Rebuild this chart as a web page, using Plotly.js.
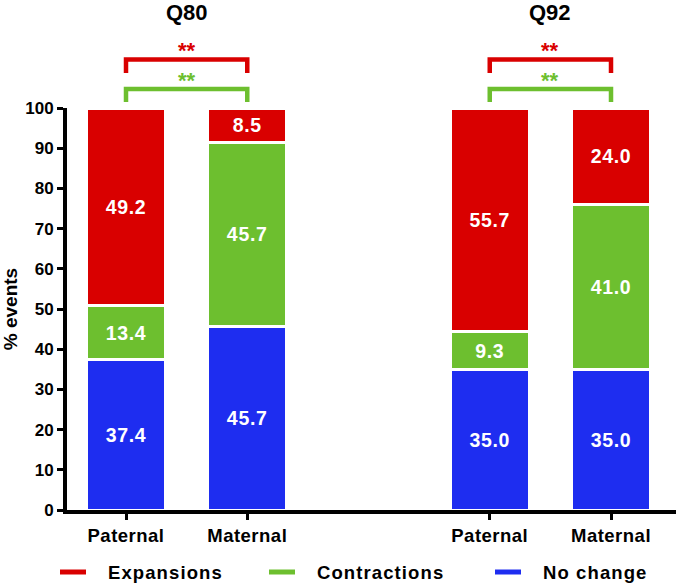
<!DOCTYPE html>
<html><head><meta charset="utf-8">
<script src="https://cdn.plot.ly/plotly-3.0.1.min.js"></script>
<style>
html,body{margin:0;padding:0;background:#fff}
.xtick text{letter-spacing:0.5px}
.bartext{letter-spacing:0.7px}
</style>
</head><body><div id="chart" style="width:677px;height:585px"></div>
<script>
// ---- data ----
const groups = ['Q80', 'Q92'];
const categories = ['Paternal', 'Maternal', 'Paternal', 'Maternal'];
const positions = [0, 1, 3, 4];
const noChange = [37.4, 45.7, 35.0, 35.0];
const contractions = [13.4, 45.7, 9.3, 41.0];
const expansions = [49.2, 8.5, 55.7, 24.0];
const seriesNames = ['Expansions', 'Contractions', 'No change'];
const sigExpansions = ['**', '**'];
const sigContractions = ['**', '**'];
const yTitle = '% events';

// ---- style ----
const RED = '#D90000', GREEN = '#6DBF2F', BLUE = '#1E2DF0';
const FONT = 'Arial, "Liberation Sans", Helvetica, sans-serif';
const W = 677, H = 585;
const M = {l: 67, r: 1, t: 108, b: 75};
const plotW = W - M.l - M.r, plotH = H - M.t - M.b;
const px2x = px => (px - M.l) / plotW;
const py2y = py => (H - M.b - py) / plotH;

function barTrace(vals, name, color) {
  return {
    type: 'bar', x: positions, y: vals, name: name,
    width: 0.648, showlegend: false,
    marker: {color: color, line: {color: '#ffffff', width: 3}},
    texttemplate: '%{y:.1f}', textposition: 'inside', insidetextanchor: 'middle',
    textangle: 0, constraintext: 'none',
    textfont: {family: FONT, size: 19.5, color: '#ffffff', weight: 'bold'},
    hoverinfo: 'skip'
  };
}
const data = [
  barTrace(noChange, seriesNames[2], BLUE),
  barTrace(contractions, seriesNames[1], GREEN),
  barTrace(expansions, seriesNames[0], RED)
];

const shapes = [], annotations = [];
groups.forEach((g, i) => {
  const p0 = positions[2 * i], p1 = positions[2 * i + 1];
  annotations.push({text: g, x: (p0 + p1) / 2, xref: 'x', y: py2y(12.5), yref: 'paper',
    showarrow: false, yanchor: 'middle',
    font: {family: FONT, size: 22, color: '#000', weight: 'bold'}});
  const brackets = [
    {top: 59.5, bot: 73, color: RED, star: sigExpansions[i], sy: 50},
    {top: 89, bot: 102, color: GREEN, star: sigContractions[i], sy: 80}
  ];
  brackets.forEach(b => {
    shapes.push({type: 'path', xref: 'x', yref: 'paper',
      path: `M ${p0},${py2y(b.bot)} L ${p0},${py2y(b.top)} L ${p1},${py2y(b.top)} L ${p1},${py2y(b.bot)}`,
      line: {color: b.color, width: 4.5}});
    annotations.push({text: b.star, x: (p0 + p1) / 2, xref: 'x', y: py2y(b.sy), yref: 'paper',
      showarrow: false, yanchor: 'middle',
      font: {family: FONT, size: 22, color: b.color, weight: 'bold'}});
  });
});

// legend (manual, to match line-style swatches)
const legendColors = [RED, GREEN, BLUE];
const legendSym = [60, 269, 495];
const legendY = 572;
seriesNames.forEach((n, i) => {
  shapes.push({type: 'line', xref: 'paper', yref: 'paper',
    x0: px2x(legendSym[i]), x1: px2x(legendSym[i] + 26),
    y0: py2y(legendY), y1: py2y(legendY),
    line: {color: legendColors[i], width: 5}});
  annotations.push({text: '<span style="letter-spacing:1.1px">' + n + '</span>',
    xref: 'paper', yref: 'paper',
    x: px2x(legendSym[i] + 46), y: py2y(legendY), xanchor: 'left', yanchor: 'middle',
    showarrow: false, font: {family: FONT, size: 18.5, color: '#000', weight: 'bold'}});
});

const layout = {
  width: W, height: H, margin: M,
  paper_bgcolor: '#fff', plot_bgcolor: '#fff',
  barmode: 'stack', showlegend: false, hovermode: false,
  font: {family: FONT, color: '#000'},
  xaxis: {
    range: [(M.l - 126) / 121.25, (W - M.r - 126) / 121.25],
    tickvals: positions, ticktext: categories,
    ticks: 'outside', ticklen: 6, tickwidth: 3, tickcolor: '#000',
    showline: true, linewidth: 4, linecolor: '#000',
    showgrid: false, zeroline: false,
    tickfont: {family: FONT, size: 18.5, color: '#000', weight: 'bold'}
  },
  yaxis: {
    range: [0, 100], dtick: 10, tick0: 0,
    ticks: 'outside', ticklen: 6, tickwidth: 3, tickcolor: '#000',
    showline: true, linewidth: 4, linecolor: '#000',
    showgrid: false, zeroline: false,
    tickfont: {family: FONT, size: 17, color: '#000', weight: 'bold'},
    title: {text: yTitle, font: {family: FONT, size: 19, color: '#000', weight: 'bold'}, standoff: 6}
  },
  shapes: shapes, annotations: annotations
};
Plotly.newPlot('chart', data, layout, {displayModeBar: false, staticPlot: true});
</script></body></html>
